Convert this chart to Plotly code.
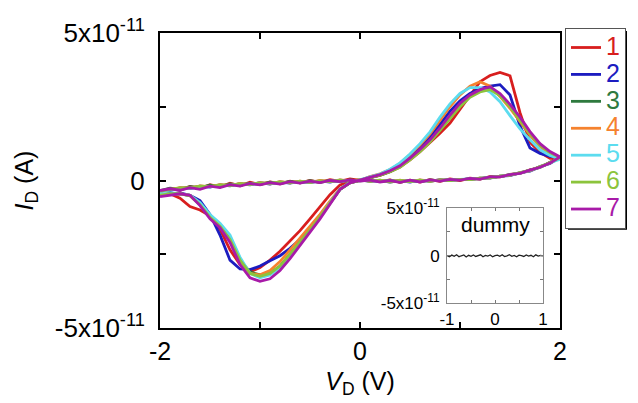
import plotly.graph_objects as go

# ---------------- data (currents in units of 1e-11 A) ----------------
V_FWD = [-2.0, -1.9, -1.8, -1.7, -1.6, -1.5, -1.4, -1.3, -1.2, -1.1, -1.0,
         -0.9, -0.8, -0.7, -0.6, -0.5, -0.4, -0.3, -0.2, -0.1, 0.0,
         0.1, 0.2, 0.3, 0.4, 0.5, 0.6, 0.7, 0.8, 0.9, 1.0,
         1.1, 1.2, 1.3, 1.4, 1.5, 1.6, 1.7, 1.8, 1.9, 2.0]
V_BACK = list(reversed(V_FWD))

SERIES_NAMES = ["1", "2", "3", "4", "5", "6", "7"]
SERIES_COLORS = ["#d81e1e", "#1c1cc0", "#2e7a3e", "#f5822e", "#5cdcef", "#8cc43c", "#a81aa8"]

# forward sweep (-2 V -> 2 V)
I_FWD_1 = [-0.50, -0.45, -0.60, -0.88, -1.00, -1.20, -1.65, -2.35, -2.85, -3.10, -2.95,
           -2.70, -2.40, -2.05, -1.70, -1.30, -0.90, -0.48, -0.15, -0.05, 0.00,
           0.10, 0.17, 0.30, 0.46, 0.70, 0.98, 1.28, 1.60, 1.95, 2.42,
           2.90, 3.35, 3.56, 3.66, 3.55, 2.30, 1.30, 0.95, 0.75, 0.78]
I_FWD_2 = [-0.50, -0.45, -0.42, -0.50, -0.68, -1.15, -1.85, -2.70, -3.00, -3.02, -2.90,
           -2.72, -2.55, -2.30, -2.00, -1.62, -1.20, -0.75, -0.30, -0.07, 0.00,
           0.12, 0.20, 0.35, 0.55, 0.80, 1.12, 1.48, 1.90, 2.35, 2.70,
           2.95, 3.12, 3.20, 3.25, 2.90, 1.85, 1.10, 0.92, 0.82, 0.78]
I_FWD_3 = [-0.48, -0.45, -0.45, -0.50, -0.80, -1.20, -1.55, -2.00, -2.70, -3.10, -3.20,
           -3.15, -2.90, -2.50, -2.10, -1.70, -1.25, -0.78, -0.30, -0.08, 0.00,
           0.10, 0.18, 0.30, 0.47, 0.72, 1.00, 1.33, 1.72, 2.15, 2.55,
           2.85, 3.05, 3.12, 2.88, 2.50, 2.00, 1.55, 1.18, 0.93, 0.78]
I_FWD_4 = [-0.50, -0.48, -0.45, -0.50, -0.78, -1.20, -1.55, -2.05, -2.75, -3.15, -3.20,
           -3.05, -2.75, -2.35, -1.95, -1.55, -1.15, -0.70, -0.28, -0.07, 0.01,
           0.13, 0.23, 0.37, 0.58, 0.88, 1.20, 1.58, 2.05, 2.50, 2.90,
           3.20, 3.35, 3.20, 2.85, 2.45, 2.00, 1.55, 1.15, 0.90, 0.78]
I_FWD_5 = [-0.45, -0.45, -0.45, -0.50, -0.75, -1.15, -1.45, -1.85, -2.60, -3.15, -3.30,
           -3.20, -2.95, -2.55, -2.10, -1.70, -1.25, -0.75, -0.28, -0.07, 0.02,
           0.12, 0.22, 0.38, 0.60, 0.90, 1.25, 1.65, 2.15, 2.60, 2.95,
           3.15, 3.15, 3.00, 2.67, 2.20, 1.75, 1.38, 1.04, 0.85, 0.72]
I_FWD_6 = [-0.50, -0.45, -0.45, -0.52, -0.82, -1.25, -1.55, -2.00, -2.70, -3.15, -3.25,
           -3.15, -2.90, -2.50, -2.10, -1.68, -1.22, -0.75, -0.30, -0.08, 0.00,
           0.10, 0.18, 0.30, 0.45, 0.70, 0.98, 1.30, 1.70, 2.12, 2.50,
           2.82, 3.00, 3.08, 2.88, 2.50, 2.05, 1.60, 1.20, 0.95, 0.78]
I_FWD_7 = [-0.55, -0.50, -0.45, -0.50, -0.85, -1.30, -1.60, -2.10, -2.85, -3.30, -3.42,
           -3.33, -3.05, -2.65, -2.20, -1.78, -1.30, -0.80, -0.30, -0.08, 0.02,
           0.12, 0.20, 0.33, 0.50, 0.76, 1.05, 1.38, 1.78, 2.22, 2.62,
           2.90, 3.08, 3.18, 2.95, 2.58, 2.15, 1.66, 1.25, 0.98, 0.80]

# backward sweep (2 V -> -2 V)
I_BACK_1 = [0.78, 0.62, 0.44, 0.36, 0.24, 0.21, 0.12, 0.13, 0.05, 0.08, 0.00,
            0.05, -0.03, 0.03, -0.05, 0.01, -0.06, 0.02, -0.04, 0.03, 0.00,
            0.05, -0.03, 0.03, -0.06, 0.00, -0.08, -0.02, -0.11, -0.05, -0.14,
            -0.06, -0.18, -0.09, -0.22, -0.14, -0.27, -0.20, -0.33, -0.27, -0.38]
I_BACK_2 = [0.78, 0.58, 0.47, 0.32, 0.27, 0.17, 0.15, 0.08, 0.08, 0.03, 0.04,
            0.00, 0.03, -0.03, 0.01, -0.05, 0.00, -0.05, 0.00, -0.03, 0.02,
            -0.02, 0.01, -0.05, -0.01, -0.07, -0.03, -0.09, -0.05, -0.12, -0.07,
            -0.15, -0.11, -0.18, -0.15, -0.22, -0.19, -0.27, -0.25, -0.34, -0.36]
I_BACK_3 = [0.77, 0.61, 0.45, 0.35, 0.25, 0.20, 0.13, 0.11, 0.06, 0.06, 0.02,
            0.04, -0.01, 0.02, -0.04, 0.00, -0.05, 0.01, -0.03, 0.01, -0.01,
            0.02, -0.04, 0.00, -0.06, -0.01, -0.08, -0.03, -0.10, -0.06, -0.13,
            -0.09, -0.16, -0.12, -0.20, -0.16, -0.24, -0.21, -0.29, -0.26, -0.35]
I_BACK_4 = [0.79, 0.59, 0.46, 0.33, 0.26, 0.18, 0.15, 0.09, 0.08, 0.04, 0.04,
            0.01, 0.02, -0.02, 0.02, -0.04, 0.01, -0.04, 0.01, -0.02, 0.03,
            -0.01, 0.02, -0.04, 0.00, -0.06, -0.02, -0.08, -0.04, -0.11, -0.07,
            -0.14, -0.10, -0.17, -0.14, -0.21, -0.18, -0.26, -0.24, -0.31, -0.37]
I_BACK_5 = [0.72, 0.60, 0.45, 0.34, 0.25, 0.19, 0.14, 0.10, 0.07, 0.05, 0.03,
            0.02, 0.00, 0.00, -0.02, -0.01, -0.03, -0.01, -0.02, 0.00, 0.01,
            0.00, -0.01, -0.02, -0.03, -0.04, -0.05, -0.06, -0.08, -0.09, -0.10,
            -0.12, -0.14, -0.16, -0.18, -0.20, -0.23, -0.26, -0.30, -0.33, -0.36]
I_BACK_6 = [0.78, 0.60, 0.47, 0.34, 0.27, 0.18, 0.15, 0.09, 0.08, 0.03, 0.04,
            0.00, 0.02, -0.03, 0.01, -0.04, 0.00, -0.05, 0.01, -0.03, 0.02,
            -0.02, 0.01, -0.04, -0.01, -0.06, -0.02, -0.08, -0.05, -0.10, -0.08,
            -0.13, -0.11, -0.17, -0.15, -0.21, -0.19, -0.25, -0.25, -0.30, -0.36]
I_BACK_7 = [0.80, 0.59, 0.45, 0.35, 0.24, 0.20, 0.12, 0.12, 0.05, 0.07, 0.01,
            0.04, -0.02, 0.02, -0.05, 0.01, -0.06, 0.00, -0.05, 0.01, -0.02,
            0.02, -0.04, 0.00, -0.07, -0.02, -0.09, -0.04, -0.12, -0.07, -0.15,
            -0.10, -0.19, -0.14, -0.24, -0.19, -0.30, -0.24, -0.33, -0.28, -0.34]

I_FWD = [I_FWD_1, I_FWD_2, I_FWD_3, I_FWD_4, I_FWD_5, I_FWD_6, I_FWD_7]
I_BACK = [I_BACK_1, I_BACK_2, I_BACK_3, I_BACK_4, I_BACK_5, I_BACK_6, I_BACK_7]

# inset "dummy" device
V_DUMMY = [-1.0, -0.95, -0.9, -0.85, -0.8, -0.75, -0.7, -0.65, -0.6, -0.55, -0.5,
           -0.45, -0.4, -0.35, -0.3, -0.25, -0.2, -0.15, -0.1, -0.05, 0.0,
           0.05, 0.1, 0.15, 0.2, 0.25, 0.3, 0.35, 0.4, 0.45, 0.5,
           0.55, 0.6, 0.65, 0.7, 0.75, 0.8, 0.85, 0.9, 0.95, 1.0]
I_DUMMY = [0.00, -0.12, 0.05, -0.08, 0.08, -0.12, -0.02, 0.06, -0.14, 0.03, -0.07,
           0.07, -0.09, -0.01, 0.08, -0.12, 0.02, -0.05, 0.06, -0.13, 0.00,
           0.04, -0.08, 0.08, -0.11, -0.03, 0.09, -0.08, 0.02, -0.12, 0.05,
           -0.01, -0.09, 0.07, -0.06, 0.03, -0.12, 0.08, -0.06, 0.01, -0.03]

SCALE = 1e-11
FONT = "Liberation Sans, Arial, Helvetica, sans-serif"

fig = go.Figure()
for name, color, fwd, back in zip(SERIES_NAMES, SERIES_COLORS, I_FWD, I_BACK):
    xs = V_FWD + V_BACK
    ys = [v * SCALE for v in fwd + back]
    fig.add_trace(go.Scatter(
        x=xs, y=ys, mode="lines",
        line=dict(color=color, width=2.8),
        name=f"<span style='color:{color};font-size:25px'>{name}</span>",
        xaxis="x", yaxis="y"))

fig.add_trace(go.Scatter(
    x=V_DUMMY, y=[v * SCALE for v in I_DUMMY], mode="lines",
    line=dict(color="#222222", width=1.3), showlegend=False,
    xaxis="x2", yaxis="y2"))

fig.update_layout(
    width=638, height=403,
    margin=dict(l=160, r=78, t=33, b=73),
    paper_bgcolor="white", plot_bgcolor="white",
    font=dict(family=FONT, color="black"),
    xaxis=dict(
        range=[-2, 2], domain=[0, 1],
        tickvals=[-2, -1, 0, 1, 2], ticktext=["-2", "", "0", "", "2"],
        ticks="inside", ticklen=6, tickwidth=2, tickcolor="black",
        showline=True, linecolor="black", linewidth=2, mirror="ticks",
        showgrid=False, zeroline=False,
        tickfont=dict(size=25),
        title=dict(text="<i>V</i><sub>D</sub> (V)", font=dict(size=25), standoff=8),
    ),
    yaxis=dict(
        range=[-5e-11, 5e-11], domain=[0, 1],
        tickvals=[-5e-11, -2.5e-11, 0, 2.5e-11, 5e-11],
        ticktext=["-5x10<sup>-11</sup>", "", "0", "", "5x10<sup>-11</sup>"],
        ticks="inside", ticklen=6, tickwidth=2, tickcolor="black",
        showline=True, linecolor="black", linewidth=2, mirror="ticks",
        showgrid=False, zeroline=False,
        tickfont=dict(size=26), ticklabelstandoff=8,
        title=dict(text="<i>I</i><sub>D</sub> (A)", font=dict(size=25), standoff=14),
    ),
    xaxis2=dict(
        range=[-1, 1], domain=[0.7175, 0.9575], anchor="y2",
        tickvals=[-1, -0.5, 0, 0.5, 1], ticktext=["-1", "", "0", "", "1"],
        ticks="inside", ticklen=3, tickwidth=1, tickcolor="#777777",
        showline=True, linecolor="#888888", linewidth=1, mirror="ticks",
        showgrid=False, zeroline=False,
        tickfont=dict(size=17),
    ),
    yaxis2=dict(
        range=[-5e-11, 5e-11], domain=[0.084, 0.407], anchor="x2",
        tickvals=[-5e-11, -2.5e-11, 0, 2.5e-11, 5e-11],
        ticktext=["-5x10<sup>-11</sup>", "", "0", "", "5x10<sup>-11</sup>"],
        ticks="inside", ticklen=3, tickwidth=1, tickcolor="#777777",
        showline=True, linecolor="#888888", linewidth=1, mirror="ticks",
        showgrid=False, zeroline=False,
        tickfont=dict(size=17), ticklabelstandoff=3,
    ),
    legend=dict(
        x=1.0125, y=1.0168, xanchor="left", yanchor="top",
        bgcolor="white", bordercolor="#555555", borderwidth=1,
        font=dict(size=18.4), itemwidth=30, tracegroupgap=0,
    ),
    shapes=[dict(
        type="rect", xref="paper", yref="paper",
        x0=1.02, x1=1.1675, y0=0.333, y1=1.0067,
        fillcolor="black", line=dict(width=0), layer="above")],
    annotations=[dict(
        text="dummy", xref="x2 domain", yref="y2 domain", x=0.5, y=0.97,
        xanchor="center", yanchor="top", showarrow=False, font=dict(size=21))],
)

fig.write_html("out.html")
